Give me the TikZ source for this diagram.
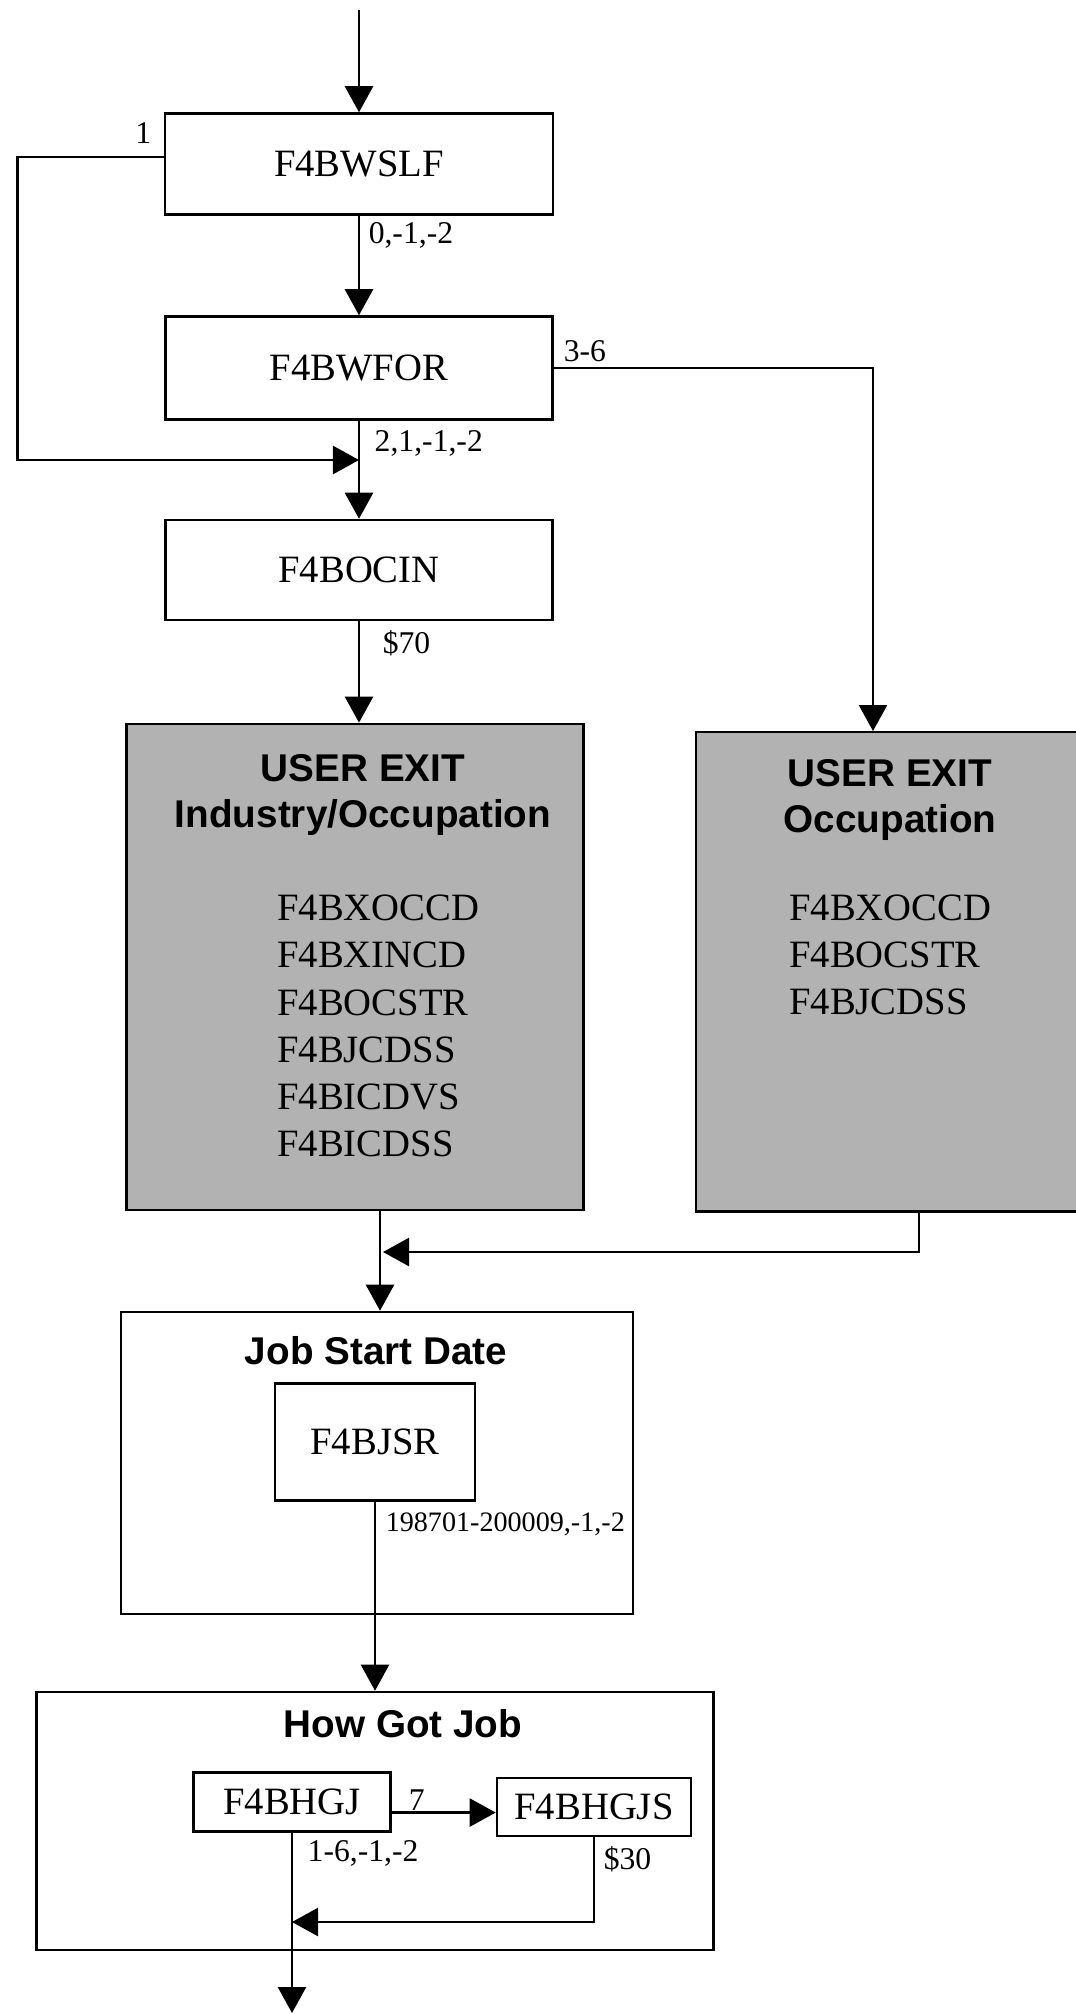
\documentclass[tikz,border=0pt]{standalone}
\usepackage{fontspec}
\setmainfont{Liberation Serif}
\newfontfamily\headfont{Liberation Sans}
\usepackage{xcolor}
\usepackage{tikz}
\usetikzlibrary{arrows.meta,positioning}
\definecolor{exitgray}{RGB}{178,178,178}

\begin{document}
\begin{tikzpicture}[x=0.01cm, y=-0.01cm, line width=0.7pt,
    proc/.style={draw, fill=white, inner sep=0pt, font=\fontsize{11}{13}\selectfont},
    exitbox/.style={draw, fill=exitgray, inner sep=0pt},
    group/.style={draw, inner sep=0pt},
    head/.style={font=\headfont\bfseries\fontsize{11}{13.1}\selectfont, align=center},
    codes/.style={font=\fontsize{11}{13.4}\selectfont, align=left, anchor=west, inner sep=0pt},
    lbl/.style={font=\fontsize{9}{10}\selectfont, inner sep=1pt, anchor=west},
    flow/.style={-{Triangle[width=0.28cm,length=0.26cm]}}]
    \useasboundingbox (0,0) rectangle (1076,2014);

    % upper chain
    \node[proc, minimum width=3.88cm, minimum height=1.01cm] (wslf) at (359,164) {F4BWSLF};
    \node[proc, minimum width=3.87cm, minimum height=1.03cm] (wfor) at (359,368) {F4BWFOR};
    \node[proc, minimum width=3.87cm, minimum height=1.00cm] (ocin) at (359,570) {F4BOCIN};

    % user exits
    \node[exitbox, minimum width=4.57cm, minimum height=4.86cm] (exitio) at (355,967) {};
    \node[head] at (363,795) {USER EXIT\\Industry/Occupation};
    \node[codes] at (276,1026) {F4BXOCCD\\F4BXINCD\\F4BOCSTR\\F4BJCDSS\\F4BICDVS\\F4BICDSS};
    \node[exitbox, minimum width=3.9cm, minimum height=4.79cm, anchor=north west] (exitocc) at (695,731) {};
    \node[head] at (890,800) {USER EXIT\\Occupation};
    \node[codes] at (788,955) {F4BXOCCD\\F4BOCSTR\\F4BJCDSS};

    % job start date
    \node[group, minimum width=5.12cm, minimum height=3.02cm] (startgrp) at (377,1463) {};
    \node[head] at (376,1351) {Job Start Date};
    \node[proc, minimum width=2.00cm, minimum height=1.17cm] (jsr) at (375,1442) {F4BJSR};

    % how got job
    \node[group, minimum width=6.77cm, minimum height=2.58cm] (hgjgrp) at (375,1821) {};
    \node[head] at (403,1724) {How Got Job};
    \node[proc, minimum width=1.97cm, minimum height=0.59cm] (hgj) at (292,1802) {F4BHGJ};
    \node[proc, minimum width=1.94cm, minimum height=0.58cm] (hgjs) at (594,1807) {F4BHGJS};

    % connectors
    \coordinate (entry) at (359,10);
    \coordinate (join) at (359,460);
    \coordinate (occin) at (873,731);
    \coordinate (ioout) at (380,1210);
    \coordinate (occout) at (919,1210);
    \coordinate (merge) at (383,1252);
    \coordinate (back) at (292,1922);
    \coordinate (leave) at (292,2013);

    \draw[flow] (entry) -- (wslf.north);
    \draw[flow] (wslf) -- (wfor);
    \draw[flow] ([yshift=2pt]wslf.west) -- ++(-146,0) |- (join);
    \draw[flow] (wfor) -- (ocin);
    \draw[flow] (wfor.east) -| (occin);
    \draw[flow] (ocin.south) -- (ocin.south |- exitio.north);
    \draw[flow] (ioout) -- (ioout |- startgrp.north);
    \draw[flow] (occout) |- (merge);
    \draw[flow] (jsr.south) -- (jsr.south |- hgjgrp.north);
    \draw[flow] ([yshift=-3pt]hgj.east) -- ([yshift=-3pt]hgj.east -| hgjs.west);
    \draw[flow] (hgjs.south) |- (back);
    \draw[flow] (hgj.south) -- (leave);

    % branch labels
    \node[lbl, anchor=east] at (156,133) {1};
    \node[lbl] at (364,235) {0,-1,-2};
    \node[lbl] at (559,351) {3-6};
    \node[lbl] at (370,443) {2,1,-1,-2};
    \node[lbl] at (378,643) {\$70};
    \node[lbl, font=\fontsize{8}{9}\selectfont] at (381,1524) {198701-200009,-1,-2};
    \node[lbl] at (404,1800) {7};
    \node[lbl] at (303,1853) {1-6,-1,-2};
    \node[lbl] at (599,1859) {\$30};
\end{tikzpicture}
\end{document}
